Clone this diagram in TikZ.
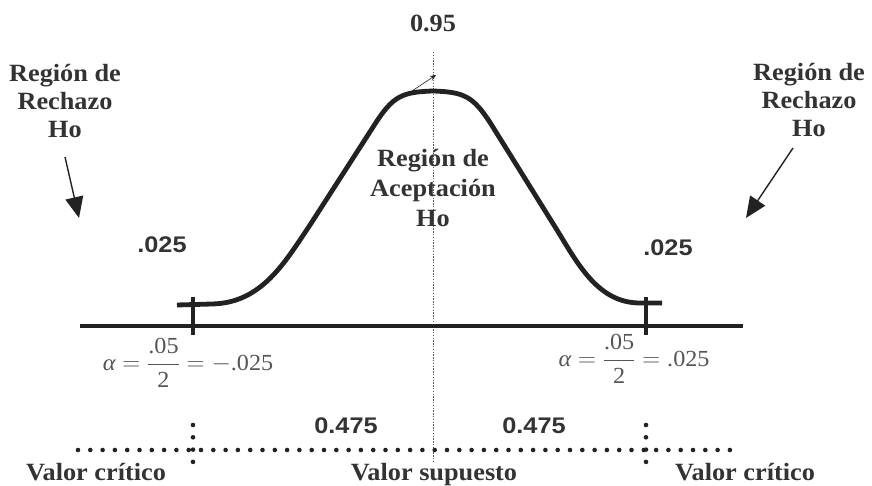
\documentclass[tikz,border=0pt]{standalone}
\usepackage{fontspec}
\setmainfont{Liberation Serif}[FakeStretch=1.06]
\setsansfont{Liberation Sans}[FakeStretch=1.12]
\newfontfamily\formfont{Liberation Serif}[FakeStretch=1.05]
\usetikzlibrary{arrows.meta}
\definecolor{ink}{HTML}{222222}
\definecolor{txt}{HTML}{333333}
\definecolor{frm}{HTML}{555555}
\newcommand\alphaeq[1]{$\hbox{\itshape α}=\displaystyle\frac{\hbox{.05}}{\hbox{2}}=#1$}
\tikzset{
  serif/.style={font=\fontsize{24.8}{28}\selectfont\bfseries, text=txt, inner sep=0pt, align=center},
  sanslbl/.style={font=\fontsize{22.6}{26}\selectfont\sffamily\bfseries, text=txt, inner sep=0pt},
  formula/.style={font=\fontsize{23}{27}\selectfont\formfont, text=frm, inner sep=0pt},
  thick curve/.style={line width=4.8pt, draw=ink, line cap=butt, line join=round},
  dotrow/.style={line width=4.6pt, draw=ink, line cap=round, dash pattern=on 0pt off 12.3pt},
  finedots/.style={line width=1pt, draw=ink!75, dash pattern=on 1.4pt off 1.4pt},
  pointer/.style={line width=1.4pt, draw=ink, -{Triangle[length=21pt,width=18pt]}}
}
\begin{document}
\begin{tikzpicture}[x=1pt,y=-1pt]
\useasboundingbox (0,0) rectangle (872,486);

% centre dotted line
\coordinate (vtop) at (433,52);
\coordinate (vbot) at (433,462);
\draw[finedots] (vtop) -- (vbot);

% axis and ticks
\coordinate (axL) at (80,326);
\coordinate (axR) at (743,326);
\draw[thick curve] (axL) -- (axR);
\coordinate (tLt) at (193,297); \coordinate (tLb) at (193,335);
\coordinate (tRt) at (646,297); \coordinate (tRb) at (646,335);
\draw[thick curve] (tLt) -- (tLb);
\draw[thick curve] (tRt) -- (tRb);

% bell curve
\draw[thick curve] (177,305) -- (212,304)
  .. controls (262,303) and (285,262) .. (310,225)
  -- (375,124)
  .. controls (393,96) and (402,92) .. (433,91)
  .. controls (464,92) and (473,96) .. (491,124)
  -- (552,222)
  .. controls (575,258) and (595,303) .. (640,303)
  -- (662,303);

% tiny arrow at the peak
\coordinate (pk1) at (412,91);
\coordinate (pk2) at (436,75);
\draw[line width=0.6pt, draw=ink, -{Stealth[length=6pt,width=5pt]}] (pk1) -- (pk2);

% labels top (base anchor = baseline of last line)
\node[serif, anchor=base] (p95) at (433,32) {0.95};
\node[serif, anchor=base] (rejL) at (65,138) {Región de\\Rechazo\\Ho};
\node[serif, anchor=base] (rejR) at (809,137) {Región de\\Rechazo\\Ho};
\node[serif, anchor=base, font=\fontsize{24.8}{30}\selectfont\bfseries] (acc) at (433,227) {Región de\\Aceptación\\Ho};

% arrows to rejection regions
\coordinate (aLs) at (65,157); \coordinate (aLe) at (79,218);
\coordinate (aRs) at (793,148); \coordinate (aRe) at (746,218);
\draw[pointer] (aLs) -- (aLe);
\draw[pointer] (aRs) -- (aRe);

% .025 labels
\node[sanslbl, anchor=base] (qL) at (162,253) {.025};
\node[sanslbl, anchor=base] (qR) at (668,255) {.025};

% formulas
\node[formula] (fL) at (188,363) {\alphaeq{-\hbox{.025}}};
\node[formula] (fR) at (634,359) {\alphaeq{\hbox{.025}}};

% bottom dotted lines
\coordinate (bL) at (78,450); \coordinate (bR) at (735,450);
\draw[dotrow] (bL) -- (bR);
\coordinate (vLt) at (193,425); \coordinate (vLb) at (193,463);
\coordinate (vRt) at (646,425); \coordinate (vRb) at (646,463);
\draw[dotrow] (vLt) -- (vLb);
\draw[dotrow] (vRt) -- (vRb);

% 0.475 labels
\node[sanslbl, anchor=base] (hL) at (346,433) {0.475};
\node[sanslbl, anchor=base] (hR) at (534,433) {0.475};

% bottom texts
\node[serif, anchor=base] (vcL) at (96,480) {Valor crítico};
\node[serif, anchor=base] (vs) at (434,480) {Valor supuesto};
\node[serif, anchor=base] (vcR) at (745,480) {Valor crítico};
\end{tikzpicture}
\end{document}
